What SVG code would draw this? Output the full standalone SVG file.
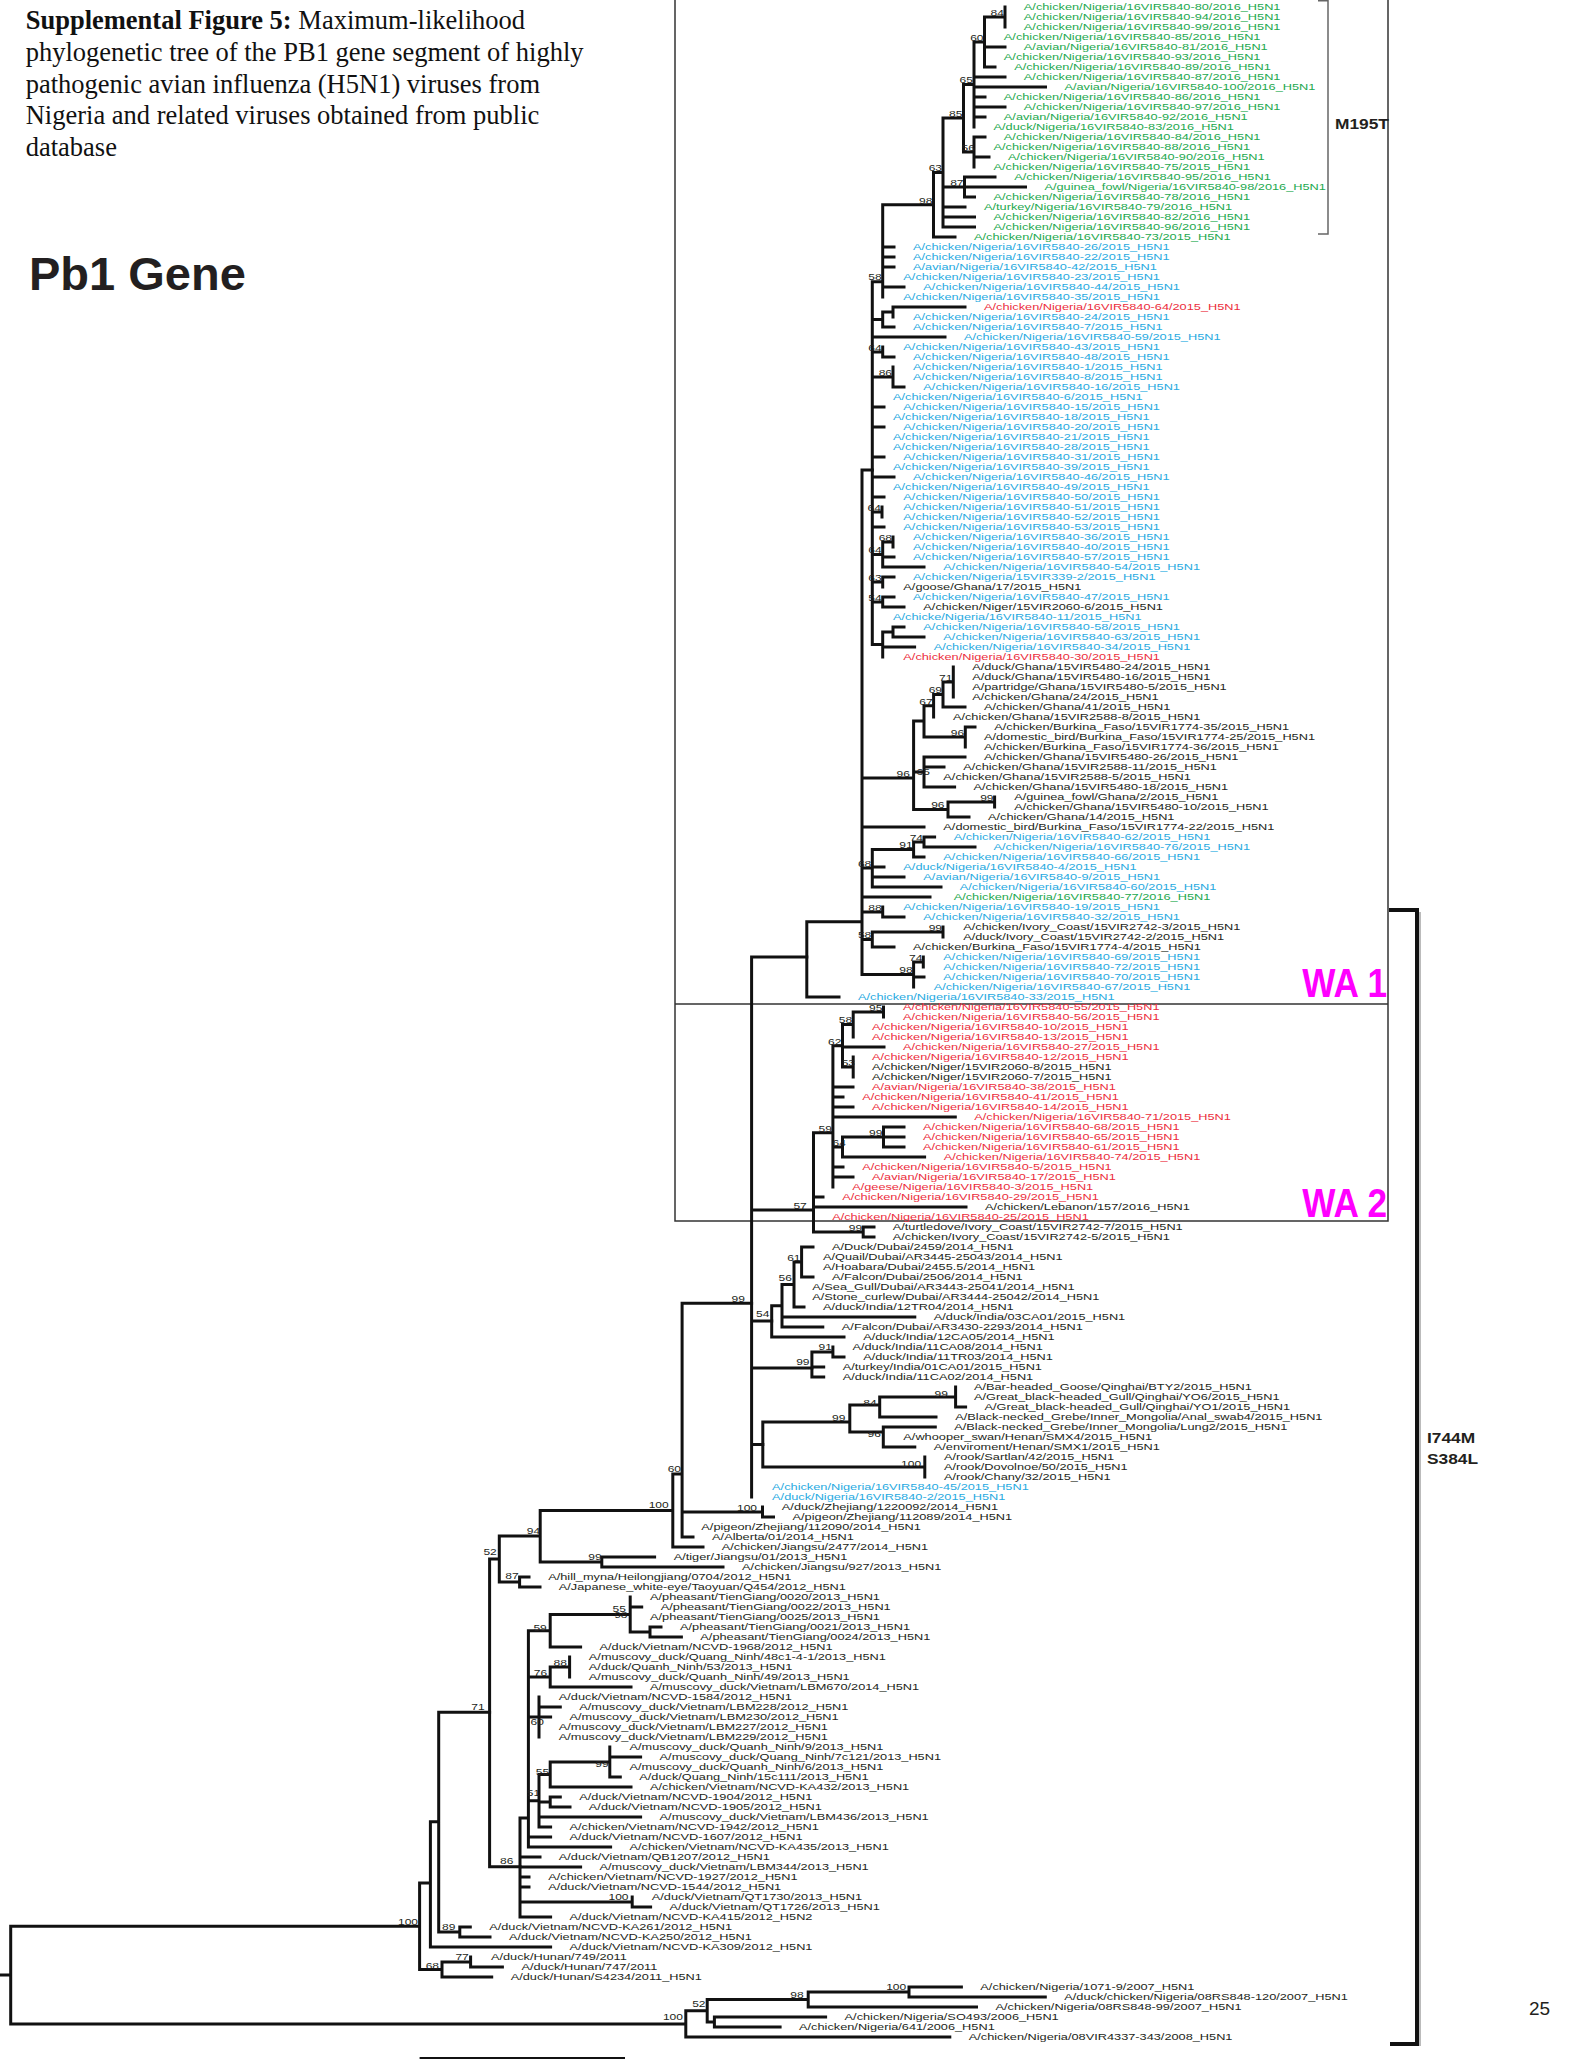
<svg xmlns="http://www.w3.org/2000/svg" width="1583" height="2059" viewBox="0 0 1583 2059">
<style>
.lf text{font-family:"Liberation Sans",Arial,sans-serif;font-size:8.8px;fill:#231f20}
.lf .g{fill:#22a84e}.lf .c{fill:#27aae1}.lf .r{fill:#ec2d3c}
.bs text{font-family:"Liberation Sans",Arial,sans-serif;font-size:8.3px;fill:#231f20;text-anchor:end}
.br{fill:none;stroke:#111;stroke-width:3;stroke-linecap:square}
.cap{font-family:"Liberation Serif","Times New Roman",serif;font-size:26.5px;fill:#111}
.hd{font-family:"Liberation Sans",Arial,sans-serif;font-weight:bold;fill:#231f20}
.wa{font-family:"Liberation Sans",Arial,sans-serif;font-weight:bold;fill:#ff00ff;font-size:40px;text-anchor:end}
</style>
<rect width="1583" height="2059" fill="#fff"/>
<g id="caption">
<text class="cap" x="25.7" y="29.3"><tspan font-weight="bold">Supplemental Figure 5:</tspan> Maximum-likelihood</text>
<text class="cap" x="25.7" y="61">phylogenetic tree of the PB1 gene segment of highly</text>
<text class="cap" x="25.7" y="92.7">pathogenic avian influenza (H5N1) viruses from</text>
<text class="cap" x="25.7" y="124.3">Nigeria and related viruses obtained from public</text>
<text class="cap" x="25.7" y="156">database</text>
</g>
<g id="title"><text class="hd" x="29" y="290" font-size="47">Pb1 Gene</text></g>
<g id="boxes">
<path d="M675 0V1221H1388V0M675 1004H1388" fill="none" stroke="#333" stroke-width="1.5"/>
<text class="wa" transform="translate(1387 997) scale(0.88 1)">WA 1</text>
<text class="wa" transform="translate(1387 1217) scale(0.88 1)">WA 2</text>
</g>
<g id="m195t">
<path d="M1318 0.8H1328V234H1318" fill="none" stroke="#666" stroke-width="1.5"/>
<text class="hd" font-size="14" transform="translate(1335 129) scale(1.24 1)">M195T</text>
</g>
<g id="i744m">
<path d="M1420 912V2046" stroke="#bbb" stroke-width="2"/>
<path d="M1389 910H1417V2044H1390" fill="none" stroke="#111" stroke-width="4"/>
<text class="hd" font-size="14" transform="translate(1427 1443) scale(1.24 1)">I744M</text>
<text class="hd" font-size="14" transform="translate(1427 1464) scale(1.24 1)">S384L</text>
</g>
<g id="page"><text x="1529" y="2015" font-family="Liberation Sans,Arial,sans-serif" font-size="19" fill="#231f20">25</text></g>
<g id="branches" class="br">
<path d="M1005 7V27M984.5 17V67M984.5 17H1005M984.5 47H1005M984.5 67H995M974 42V127M974 42H984.5M974 77H1005M974 87H1045.5M974 97H985M974 107H1005M974 117H985M974 137V167M974 137H985M974 157H989M963.5 84.5V152M963.5 84.5H974M963.5 152H974M964.5 177V197M964.5 177H995M964.5 187H1025.5M964.5 197H974.5M943 118V227M943 118H963.5M943 187H964.5M943 207H965M943 217H974.5M943 227H974.5M933.5 172.5V237M933.5 172.5H943M933.5 237H955"/>
<path d="M882.7 204.8V297M882.7 204.8H933.5M882.7 247H894M882.7 257H894M882.7 267H894M882.7 287H904M872.3 281.7H882.7M872.3 281.7V644.5M872.3 319.5H882.7M872.3 337H945M872.3 352H882.7M872.3 377H893M872.3 407H884M872.3 427H884M872.3 457H884M872.3 477H894M872.3 497H884M872.3 512H882M872.3 527H884M872.3 554.5H882.7M872.3 582H882.7M872.3 602H882.7M872.3 644.5H882.7M882.7 312V327M882.7 312H893M882.7 327H894M893 307V317M893 307H965M882.7 347V357M882.7 357H894M893 367V387M893 387H904M882 507V517M882.7 542V567M882.7 542H893M882.7 557H894M882.7 567H924M893 537V547M882.7 577V587M882.7 577H894M882.7 597V607M882.7 597H894M882.7 607H904M882.7 632V657M882.7 632H893M882.7 647H914.6M893 627V637M893 627H904M893 637H924"/>
<path d="M862 470V974.5M862 470H872.3M862 778H913.6M862 827H924M862 868H872.3M862 897H930M862 912H882.7M862 939.5H872.3M862 974.5H913.6M913.6 721V809.5M913.6 721H924M913.6 772H924M913.6 809.5H948M924 705.7V737M924 705.7H933.6M924 737H965.3M933.6 694.5V717M933.6 694.5H943M943 682V707M943 682H953.3M943 707H965M953.3 667V697M965.3 727V747M965.3 727H975M924 757V787M924 757H965M924 767H944M924 787H954.6M948 802V817M948 802H994.6M948 817H969M994.6 797V807M872.3 849.5V887M872.3 849.5H913.6M872.3 867H884M872.3 877H904M872.3 887H941M913.6 842V857M913.6 842H924M913.6 857H924M924 837V847M924 837H934.6M924 847H975M882.7 907V917M882.7 917H904M872.3 932V947M872.3 932H943M872.3 947H894M943 927V937M913.6 962V987M913.6 962H923.3M913.6 977H924M923.3 957V967M806.8 921.7V997M806.8 921.7H862M806.8 997H839"/>
<path d="M751.6 957V1497M751.6 957H806.8M751.6 1210H813.5M751.6 1321H771.7M751.6 1368H811.9M751.6 1444.5H762.8M813.5 1132.7V1232M813.5 1132.7H832.9M813.5 1197H823M813.5 1207H966M813.5 1232H863.2M863.2 1227V1237M863.2 1227H874M863.2 1237H874M832.9 1045.7V1187M832.9 1045.7H842.5M832.9 1087H853M832.9 1097H843M832.9 1107H853M832.9 1117H955.3M832.9 1147H842.5M832.9 1167H843M832.9 1177H853M842.5 1024.5V1067M842.5 1024.5H853.2M842.5 1047H884M842.5 1067H853.2M853.2 1012V1037M853.2 1012H883.5M883.5 1007V1017M853.2 1057V1077M842.5 1137V1157M842.5 1137H883.5M842.5 1157H924.6M883.5 1127V1147M883.5 1127H904M883.5 1137H904M883.5 1147H904"/>
<path d="M771.7 1305.7V1337M771.7 1305.7H782M771.7 1337H844M782 1284.5V1327M782 1284.5H794M782 1317H914.8M782 1327H822.8M794 1262V1307M794 1262H801.6M794 1307H804M801.6 1247V1277M801.6 1247H813M801.6 1277H813M811.9 1352V1377M811.9 1352H832.9M811.9 1367H823.7M811.9 1377H823.7M832.9 1347V1357M832.9 1357H844M762.8 1422V1467M762.8 1422H849.8M762.8 1467H924.8M849.8 1405V1432M849.8 1405H879.7M849.8 1432H883.3M879.7 1397V1417M879.7 1397H955.6M879.7 1417H936M955.6 1387V1407M955.6 1407H965.6M883.3 1427V1447M883.3 1427H935.3M883.3 1447H914.8M924.8 1457V1477"/>
<path d="M682.1 1303.3V1537M682.1 1303.3H751.6M682.1 1512H762.5M682.1 1537H693M762.5 1507V1517M762.5 1517H773.5M672.8 1474V1547M672.8 1474H682.1M672.8 1547H703M540.2 1510.5V1562M540.2 1510.5H672.8M540.2 1562H601.8M601.8 1557V1567M601.8 1557H654.6M601.8 1567H723M499.3 1536V1582M499.3 1536H540.2M499.3 1582H519.6M519.6 1577V1587M519.6 1577H529M519.6 1587H540M489.6 1559V1866.7M489.6 1559H499.3M489.6 1866.7H520"/>
<path d="M520 1818V1917M520 1818H528.4M520 1857H540M520 1867H580.6M520 1877H529M520 1887H529M520 1902H632.2M520 1917H550.6M632.2 1897V1907M632.2 1907H650.6M528.4 1630.75V1847M528.4 1630.75H550.2M528.4 1677H550.2M528.4 1717H539M528.4 1800.75H539M528.4 1837H550.6M528.4 1847H610.6M550.2 1614.5V1647M550.2 1614.5H630.2M550.2 1647H580.6M630.2 1597V1632M630.2 1607H641.7M630.2 1632H650M650 1627V1637M650 1627H661M650 1637H681.4M550.2 1667V1687M550.2 1667H569.6M550.2 1687H631M569.6 1657V1677M539 1697V1737M539 1707H560.3M539 1717H550.6M539 1774.5V1827M539 1774.5H550.2M539 1802H550.2M539 1817H640.6M539 1827H550.6M550.2 1762V1787M550.2 1762H609.8M550.2 1787H631M609.8 1747V1777M609.8 1757H640.6M609.8 1777H620.3M550.2 1797V1807M550.2 1797H560.3M550.2 1807H570"/>
<path d="M438.7 1712.3V1932M438.7 1712.3H489.6M438.7 1932H459.8M459.8 1927V1937M459.8 1927H470.3M459.8 1937H490M430.4 1821.7V1947M430.4 1821.7H438.7M430.4 1947H550.6M419.6 1883V1969.5M419.6 1883H430.4M419.6 1969.5H442M442 1962V1977M442 1962H470.6M442 1977H491.7M470.6 1957V1967M470.6 1967H502.4M10.7 1926.2V2024M10.7 1926.2H419.6M10.7 2024H685.8M0 1975H10.7M685.8 2010.75V2037M685.8 2010.75H707.2M685.8 2037H949.8M707.2 1999.5V2022M707.2 1999.5H808.2M707.2 2022H714.4M808.2 1992V2007M808.2 1992H909M808.2 2007H976.5M909 1987V1997M909 1987H961.4M909 1997H1045.3M714.4 2017V2027M714.4 2017H825.6M714.4 2027H780.1"/>
<path d="M419.6 2058H625" stroke-width="2" stroke-linecap="butt"/>
</g>
<g id="bootstrap" class="bs" transform="scale(1.45 1)">
<text x="692.4" y="16">84</text><text x="678.3" y="41">60</text><text x="671" y="83.5">65</text><text x="663.8" y="117">85</text><text x="672.4" y="151">56</text><text x="649.7" y="171">63</text><text x="664.5" y="186">87</text><text x="643.1" y="203.8">98</text>
<text x="608.1" y="280.5">58</text><text x="608.1" y="351">64</text><text x="615.2" y="376">86</text><text x="607.6" y="511">64</text><text x="615.2" y="541">68</text><text x="608.1" y="553.5">64</text><text x="608.1" y="581">63</text><text x="608.1" y="601">54</text>
<text x="656.8" y="681">71</text><text x="649.7" y="693.5">69</text><text x="643.2" y="704.7">67</text><text x="665" y="736">96</text><text x="627.6" y="777">96</text><text x="641.4" y="775.5">65</text><text x="685.2" y="801">99</text><text x="651.4" y="808.5">96</text>
<text x="636.6" y="841">74</text><text x="629.4" y="848.5">91</text><text x="600.9" y="867">68</text><text x="608.1" y="911">88</text><text x="600.9" y="938.5">58</text><text x="649.7" y="931">99</text><text x="636.1" y="961">74</text><text x="629.4" y="973.5">98</text>
<text x="608.6" y="1011">95</text><text x="587.7" y="1023.5">58</text><text x="580.3" y="1044.7">62</text><text x="589.7" y="1066">53</text><text x="573.7" y="1131.7">59</text><text x="608.6" y="1136">99</text><text x="583.4" y="1146">64</text><text x="556.4" y="1209">57</text><text x="594.6" y="1231">99</text>
<text x="513.8" y="1302">99</text><text x="552.1" y="1261">61</text><text x="546.1" y="1281">56</text><text x="530.7" y="1317">54</text><text x="573.8" y="1350">91</text><text x="558.3" y="1365.5">99</text><text x="583" y="1421">99</text><text x="604.6" y="1406">84</text><text x="653.8" y="1397">99</text><text x="607.6" y="1437">96</text><text x="635.3" y="1467">100</text>
<text x="469.7" y="1472">60</text><text x="522.1" y="1511">100</text><text x="461.2" y="1508.5">100</text><text x="372.6" y="1534.5">94</text><text x="415" y="1560.5">99</text><text x="342.6" y="1555">52</text><text x="357.7" y="1579.5">87</text><text x="334.3" y="1710.5">71</text>
<text x="377.1" y="1631">59</text><text x="431.7" y="1612.5">55</text><text x="432.8" y="1618.2">98</text><text x="391" y="1666.5">88</text><text x="377.3" y="1676">76</text><text x="375.1" y="1725">60</text><text x="378.8" y="1775">55</text><text x="419.8" y="1767.5">99</text><text x="372.6" y="1796">51</text><text x="354.1" y="1864.5">86</text><text x="433.5" y="1900">100</text>
<text x="314.1" y="1930">89</text><text x="288.3" y="1925.5">100</text><text x="302.8" y="1968.8">68</text><text x="323.3" y="1960">77</text><text x="471" y="2020">100</text><text x="486.6" y="2006.8">52</text><text x="554.2" y="1997.8">98</text><text x="625" y="1990">100</text>
</g>
<g id="leaves" class="lf" transform="scale(1.45 1)">
<g id="n0"><text class="g" x="706.1" y="10.2">A/chicken/Nigeria/16VIR5840-80/2016_H5N1</text></g>
<g id="n1"><text class="g" x="706.1" y="20.2">A/chicken/Nigeria/16VIR5840-94/2016_H5N1</text></g>
<g id="n2"><text class="g" x="706.1" y="30.2">A/chicken/Nigeria/16VIR5840-99/2016_H5N1</text></g>
<g id="n3"><text class="g" x="692.3" y="40.2">A/chicken/Nigeria/16VIR5840-85/2016_H5N1</text></g>
<g id="n4"><text class="g" x="706.1" y="50.2">A/avian/Nigeria/16VIR5840-81/2016_H5N1</text></g>
<g id="n5"><text class="g" x="692.3" y="60.2">A/chicken/Nigeria/16VIR5840-93/2016_H5N1</text></g>
<g id="n6"><text class="g" x="699.4" y="70.2">A/chicken/Nigeria/16VIR5840-89/2016_H5N1</text></g>
<g id="n7"><text class="g" x="706.1" y="80.2">A/chicken/Nigeria/16VIR5840-87/2016_H5N1</text></g>
<g id="n8"><text class="g" x="734.1" y="90.2">A/avian/Nigeria/16VIR5840-100/2016_H5N1</text></g>
<g id="n9"><text class="g" x="692.3" y="100.2">A/chicken/Nigeria/16VIR5840-86/2016_H5N1</text></g>
<g id="n10"><text class="g" x="706.1" y="110.2">A/chicken/Nigeria/16VIR5840-97/2016_H5N1</text></g>
<g id="n11"><text class="g" x="692.3" y="120.2">A/avian/Nigeria/16VIR5840-92/2016_H5N1</text></g>
<g id="n12"><text class="g" x="685.2" y="130.2">A/duck/Nigeria/16VIR5840-83/2016_H5N1</text></g>
<g id="n13"><text class="g" x="692.3" y="140.2">A/chicken/Nigeria/16VIR5840-84/2016_H5N1</text></g>
<g id="n14"><text class="g" x="685.2" y="150.2">A/chicken/Nigeria/16VIR5840-88/2016_H5N1</text></g>
<g id="n15"><text class="g" x="695.2" y="160.2">A/chicken/Nigeria/16VIR5840-90/2016_H5N1</text></g>
<g id="n16"><text class="g" x="685.2" y="170.2">A/chicken/Nigeria/16VIR5840-75/2015_H5N1</text></g>
<g id="n17"><text class="g" x="699.4" y="180.2">A/chicken/Nigeria/16VIR5840-95/2016_H5N1</text></g>
<g id="n18"><text class="g" x="720.3" y="190.2">A/guinea_fowl/Nigeria/16VIR5840-98/2016_H5N1</text></g>
<g id="n19"><text class="g" x="685.2" y="200.2">A/chicken/Nigeria/16VIR5840-78/2016_H5N1</text></g>
<g id="n20"><text class="g" x="678.6" y="210.2">A/turkey/Nigeria/16VIR5840-79/2016_H5N1</text></g>
<g id="n21"><text class="g" x="685.2" y="220.2">A/chicken/Nigeria/16VIR5840-82/2016_H5N1</text></g>
<g id="n22"><text class="g" x="685.2" y="230.2">A/chicken/Nigeria/16VIR5840-96/2016_H5N1</text></g>
<g id="n23"><text class="g" x="671.7" y="240.2">A/chicken/Nigeria/16VIR5840-73/2015_H5N1</text></g>
<g id="n24"><text class="c" x="629.7" y="250.2">A/chicken/Nigeria/16VIR5840-26/2015_H5N1</text></g>
<g id="n25"><text class="c" x="629.7" y="260.2">A/chicken/Nigeria/16VIR5840-22/2015_H5N1</text></g>
<g id="n26"><text class="c" x="629.7" y="270.2">A/avian/Nigeria/16VIR5840-42/2015_H5N1</text></g>
<g id="n27"><text class="c" x="623" y="280.2">A/chicken/Nigeria/16VIR5840-23/2015_H5N1</text></g>
<g id="n28"><text class="c" x="636.8" y="290.2">A/chicken/Nigeria/16VIR5840-44/2015_H5N1</text></g>
<g id="n29"><text class="c" x="623" y="300.2">A/chicken/Nigeria/16VIR5840-35/2015_H5N1</text></g>
<g id="n30"><text class="r" x="678.6" y="310.2">A/chicken/Nigeria/16VIR5840-64/2015_H5N1</text></g>
<g id="n31"><text class="c" x="629.7" y="320.2">A/chicken/Nigeria/16VIR5840-24/2015_H5N1</text></g>
<g id="n32"><text class="c" x="629.7" y="330.2">A/chicken/Nigeria/16VIR5840-7/2015_H5N1</text></g>
<g id="n33"><text class="c" x="664.8" y="340.2">A/chicken/Nigeria/16VIR5840-59/2015_H5N1</text></g>
<g id="n34"><text class="c" x="623" y="350.2">A/chicken/Nigeria/16VIR5840-43/2015_H5N1</text></g>
<g id="n35"><text class="c" x="629.7" y="360.2">A/chicken/Nigeria/16VIR5840-48/2015_H5N1</text></g>
<g id="n36"><text class="c" x="629.7" y="370.2">A/chicken/Nigeria/16VIR5840-1/2015_H5N1</text></g>
<g id="n37"><text class="c" x="629.7" y="380.2">A/chicken/Nigeria/16VIR5840-8/2015_H5N1</text></g>
<g id="n38"><text class="c" x="636.8" y="390.2">A/chicken/Nigeria/16VIR5840-16/2015_H5N1</text></g>
<g id="n39"><text class="c" x="615.9" y="400.2">A/chicken/Nigeria/16VIR5840-6/2015_H5N1</text></g>
<g id="n40"><text class="c" x="623" y="410.2">A/chicken/Nigeria/16VIR5840-15/2015_H5N1</text></g>
<g id="n41"><text class="c" x="615.9" y="420.2">A/chicken/Nigeria/16VIR5840-18/2015_H5N1</text></g>
<g id="n42"><text class="c" x="623" y="430.2">A/chicken/Nigeria/16VIR5840-20/2015_H5N1</text></g>
<g id="n43"><text class="c" x="615.9" y="440.2">A/chicken/Nigeria/16VIR5840-21/2015_H5N1</text></g>
<g id="n44"><text class="c" x="615.9" y="450.2">A/chicken/Nigeria/16VIR5840-28/2015_H5N1</text></g>
<g id="n45"><text class="c" x="623" y="460.2">A/chicken/Nigeria/16VIR5840-31/2015_H5N1</text></g>
<g id="n46"><text class="c" x="615.9" y="470.2">A/chicken/Nigeria/16VIR5840-39/2015_H5N1</text></g>
<g id="n47"><text class="c" x="629.7" y="480.2">A/chicken/Nigeria/16VIR5840-46/2015_H5N1</text></g>
<g id="n48"><text class="c" x="615.9" y="490.2">A/chicken/Nigeria/16VIR5840-49/2015_H5N1</text></g>
<g id="n49"><text class="c" x="623" y="500.2">A/chicken/Nigeria/16VIR5840-50/2015_H5N1</text></g>
<g id="n50"><text class="c" x="623" y="510.2">A/chicken/Nigeria/16VIR5840-51/2015_H5N1</text></g>
<g id="n51"><text class="c" x="623" y="520.2">A/chicken/Nigeria/16VIR5840-52/2015_H5N1</text></g>
<g id="n52"><text class="c" x="623" y="530.2">A/chicken/Nigeria/16VIR5840-53/2015_H5N1</text></g>
<g id="n53"><text class="c" x="629.7" y="540.2">A/chicken/Nigeria/16VIR5840-36/2015_H5N1</text></g>
<g id="n54"><text class="c" x="629.7" y="550.2">A/chicken/Nigeria/16VIR5840-40/2015_H5N1</text></g>
<g id="n55"><text class="c" x="629.7" y="560.2">A/chicken/Nigeria/16VIR5840-57/2015_H5N1</text></g>
<g id="n56"><text class="c" x="650.6" y="570.2">A/chicken/Nigeria/16VIR5840-54/2015_H5N1</text></g>
<g id="n57"><text class="c" x="629.7" y="580.2">A/chicken/Nigeria/15VIR339-2/2015_H5N1</text></g>
<g id="n58"><text x="623" y="590.2">A/goose/Ghana/17/2015_H5N1</text></g>
<g id="n59"><text class="c" x="629.7" y="600.2">A/chicken/Nigeria/16VIR5840-47/2015_H5N1</text></g>
<g id="n60"><text x="636.8" y="610.2">A/chicken/Niger/15VIR2060-6/2015_H5N1</text></g>
<g id="n61"><text class="c" x="615.9" y="620.2">A/chicke/Nigeria/16VIR5840-11/2015_H5N1</text></g>
<g id="n62"><text class="c" x="636.8" y="630.2">A/chicken/Nigeria/16VIR5840-58/2015_H5N1</text></g>
<g id="n63"><text class="c" x="650.6" y="640.2">A/chicken/Nigeria/16VIR5840-63/2015_H5N1</text></g>
<g id="n64"><text class="c" x="643.9" y="650.2">A/chicken/Nigeria/16VIR5840-34/2015_H5N1</text></g>
<g id="n65"><text class="r" x="623" y="660.2">A/chicken/Nigeria/16VIR5840-30/2015_H5N1</text></g>
<g id="n66"><text x="670.5" y="670.2">A/duck/Ghana/15VIR5480-24/2015_H5N1</text></g>
<g id="n67"><text x="670.5" y="680.2">A/duck/Ghana/15VIR5480-16/2015_H5N1</text></g>
<g id="n68"><text x="670.5" y="690.2">A/partridge/Ghana/15VIR5480-5/2015_H5N1</text></g>
<g id="n69"><text x="670.5" y="700.2">A/chicken/Ghana/24/2015_H5N1</text></g>
<g id="n70"><text x="678.6" y="710.2">A/chicken/Ghana/41/2015_H5N1</text></g>
<g id="n71"><text x="657.2" y="720.2">A/chicken/Ghana/15VIR2588-8/2015_H5N1</text></g>
<g id="n72"><text x="685.7" y="730.2">A/chicken/Burkina_Faso/15VIR1774-35/2015_H5N1</text></g>
<g id="n73"><text x="678.6" y="740.2">A/domestic_bird/Burkina_Faso/15VIR1774-25/2015_H5N1</text></g>
<g id="n74"><text x="678.6" y="750.2">A/chicken/Burkina_Faso/15VIR1774-36/2015_H5N1</text></g>
<g id="n75"><text x="678.6" y="760.2">A/chicken/Ghana/15VIR5480-26/2015_H5N1</text></g>
<g id="n76"><text x="664.3" y="770.2">A/chicken/Ghana/15VIR2588-11/2015_H5N1</text></g>
<g id="n77"><text x="650.6" y="780.2">A/chicken/Ghana/15VIR2588-5/2015_H5N1</text></g>
<g id="n78"><text x="671.4" y="790.2">A/chicken/Ghana/15VIR5480-18/2015_H5N1</text></g>
<g id="n79"><text x="699.4" y="800.2">A/guinea_fowl/Ghana/2/2015_H5N1</text></g>
<g id="n80"><text x="699.4" y="810.2">A/chicken/Ghana/15VIR5480-10/2015_H5N1</text></g>
<g id="n81"><text x="681.4" y="820.2">A/chicken/Ghana/14/2015_H5N1</text></g>
<g id="n82"><text x="650.6" y="830.2">A/domestic_bird/Burkina_Faso/15VIR1774-22/2015_H5N1</text></g>
<g id="n83"><text class="c" x="657.7" y="840.2">A/chicken/Nigeria/16VIR5840-62/2015_H5N1</text></g>
<g id="n84"><text class="c" x="685.2" y="850.2">A/chicken/Nigeria/16VIR5840-76/2015_H5N1</text></g>
<g id="n85"><text class="c" x="650.6" y="860.2">A/chicken/Nigeria/16VIR5840-66/2015_H5N1</text></g>
<g id="n86"><text class="c" x="623" y="870.2">A/duck/Nigeria/16VIR5840-4/2015_H5N1</text></g>
<g id="n87"><text class="c" x="636.8" y="880.2">A/avian/Nigeria/16VIR5840-9/2015_H5N1</text></g>
<g id="n88"><text class="c" x="661.9" y="890.2">A/chicken/Nigeria/16VIR5840-60/2015_H5N1</text></g>
<g id="n89"><text class="g" x="657.7" y="900.2">A/chicken/Nigeria/16VIR5840-77/2016_H5N1</text></g>
<g id="n90"><text class="c" x="623" y="910.2">A/chicken/Nigeria/16VIR5840-19/2015_H5N1</text></g>
<g id="n91"><text class="c" x="636.8" y="920.2">A/chicken/Nigeria/16VIR5840-32/2015_H5N1</text></g>
<g id="n92"><text x="664.3" y="930.2">A/chicken/Ivory_Coast/15VIR2742-3/2015_H5N1</text></g>
<g id="n93"><text x="664.3" y="940.2">A/duck/Ivory_Coast/15VIR2742-2/2015_H5N1</text></g>
<g id="n94"><text x="629.7" y="950.2">A/chicken/Burkina_Faso/15VIR1774-4/2015_H5N1</text></g>
<g id="n95"><text class="c" x="650.6" y="960.2">A/chicken/Nigeria/16VIR5840-69/2015_H5N1</text></g>
<g id="n96"><text class="c" x="650.6" y="970.2">A/chicken/Nigeria/16VIR5840-72/2015_H5N1</text></g>
<g id="n97"><text class="c" x="650.6" y="980.2">A/chicken/Nigeria/16VIR5840-70/2015_H5N1</text></g>
<g id="n98"><text class="c" x="643.9" y="990.2">A/chicken/Nigeria/16VIR5840-67/2015_H5N1</text></g>
<g id="n99"><text class="c" x="591.7" y="1000.2">A/chicken/Nigeria/16VIR5840-33/2015_H5N1</text></g>
<g id="n100"><text class="r" x="622.7" y="1010.2">A/chicken/Nigeria/16VIR5840-55/2015_H5N1</text></g>
<g id="n101"><text class="r" x="622.7" y="1020.2">A/chicken/Nigeria/16VIR5840-56/2015_H5N1</text></g>
<g id="n102"><text class="r" x="601.4" y="1030.2">A/chicken/Nigeria/16VIR5840-10/2015_H5N1</text></g>
<g id="n103"><text class="r" x="601.4" y="1040.2">A/chicken/Nigeria/16VIR5840-13/2015_H5N1</text></g>
<g id="n104"><text class="r" x="622.7" y="1050.2">A/chicken/Nigeria/16VIR5840-27/2015_H5N1</text></g>
<g id="n105"><text class="r" x="601.4" y="1060.2">A/chicken/Nigeria/16VIR5840-12/2015_H5N1</text></g>
<g id="n106"><text x="601.4" y="1070.2">A/chicken/Niger/15VIR2060-8/2015_H5N1</text></g>
<g id="n107"><text x="601.4" y="1080.2">A/chicken/Niger/15VIR2060-7/2015_H5N1</text></g>
<g id="n108"><text class="r" x="601.4" y="1090.2">A/avian/Nigeria/16VIR5840-38/2015_H5N1</text></g>
<g id="n109"><text class="r" x="594.6" y="1100.2">A/chicken/Nigeria/16VIR5840-41/2015_H5N1</text></g>
<g id="n110"><text class="r" x="601.4" y="1110.2">A/chicken/Nigeria/16VIR5840-14/2015_H5N1</text></g>
<g id="n111"><text class="r" x="671.9" y="1120.2">A/chicken/Nigeria/16VIR5840-71/2015_H5N1</text></g>
<g id="n112"><text class="r" x="636.5" y="1130.2">A/chicken/Nigeria/16VIR5840-68/2015_H5N1</text></g>
<g id="n113"><text class="r" x="636.5" y="1140.2">A/chicken/Nigeria/16VIR5840-65/2015_H5N1</text></g>
<g id="n114"><text class="r" x="636.5" y="1150.2">A/chicken/Nigeria/16VIR5840-61/2015_H5N1</text></g>
<g id="n115"><text class="r" x="650.8" y="1160.2">A/chicken/Nigeria/16VIR5840-74/2015_H5N1</text></g>
<g id="n116"><text class="r" x="594.6" y="1170.2">A/chicken/Nigeria/16VIR5840-5/2015_H5N1</text></g>
<g id="n117"><text class="r" x="601.4" y="1180.2">A/avian/Nigeria/16VIR5840-17/2015_H5N1</text></g>
<g id="n118"><text class="r" x="587.7" y="1190.2">A/geese/Nigeria/16VIR5840-3/2015_H5N1</text></g>
<g id="n119"><text class="r" x="580.8" y="1200.2">A/chicken/Nigeria/16VIR5840-29/2015_H5N1</text></g>
<g id="n120"><text x="679.3" y="1210.2">A/chicken/Lebanon/157/2016_H5N1</text></g>
<g id="n121"><text class="r" x="573.9" y="1220.2">A/chicken/Nigeria/16VIR5840-25/2015_H5N1</text></g>
<g id="n122"><text x="615.7" y="1230.2">A/turtledove/Ivory_Coast/15VIR2742-7/2015_H5N1</text></g>
<g id="n123"><text x="615.7" y="1240.2">A/chicken/Ivory_Coast/15VIR2742-5/2015_H5N1</text></g>
<g id="n124"><text x="573.8" y="1250.2">A/Duck/Dubai/2459/2014_H5N1</text></g>
<g id="n125"><text x="567.6" y="1260.2">A/Quail/Dubai/AR3445-25043/2014_H5N1</text></g>
<g id="n126"><text x="567.6" y="1270.2">A/Hoabara/Dubai/2455.5/2014_H5N1</text></g>
<g id="n127"><text x="573.8" y="1280.2">A/Falcon/Dubai/2506/2014_H5N1</text></g>
<g id="n128"><text x="560.2" y="1290.2">A/Sea_Gull/Dubai/AR3443-25041/2014_H5N1</text></g>
<g id="n129"><text x="560.2" y="1300.2">A/Stone_curlew/Dubai/AR3444-25042/2014_H5N1</text></g>
<g id="n130"><text x="567.6" y="1310.2">A/duck/India/12TR04/2014_H5N1</text></g>
<g id="n131"><text x="644" y="1320.2">A/duck/India/03CA01/2015_H5N1</text></g>
<g id="n132"><text x="580.6" y="1330.2">A/Falcon/Dubai/AR3430-2293/2014_H5N1</text></g>
<g id="n133"><text x="595.3" y="1340.2">A/duck/India/12CA05/2014_H5N1</text></g>
<g id="n134"><text x="587.9" y="1350.2">A/duck/India/11CA08/2014_H5N1</text></g>
<g id="n135"><text x="595.3" y="1360.2">A/duck/India/11TR03/2014_H5N1</text></g>
<g id="n136"><text x="581.2" y="1370.2">A/turkey/India/01CA01/2015_H5N1</text></g>
<g id="n137"><text x="581.2" y="1380.2">A/duck/India/11CA02/2014_H5N1</text></g>
<g id="n138"><text x="671.7" y="1390.2">A/Bar-headed_Goose/Qinghai/BTY2/2015_H5N1</text></g>
<g id="n139"><text x="671.7" y="1400.2">A/Great_black-headed_Gull/Qinghai/YO6/2015_H5N1</text></g>
<g id="n140"><text x="679" y="1410.2">A/Great_black-headed_Gull/Qinghai/YO1/2015_H5N1</text></g>
<g id="n141"><text x="658.8" y="1420.2">A/Black-necked_Grebe/Inner_Mongolia/Anal_swab4/2015_H5N1</text></g>
<g id="n142"><text x="658.1" y="1430.2">A/Black-necked_Grebe/Inner_Mongolia/Lung2/2015_H5N1</text></g>
<g id="n143"><text x="623" y="1440.2">A/whooper_swan/Henan/SMX4/2015_H5N1</text></g>
<g id="n144"><text x="644" y="1450.2">A/enviroment/Henan/SMX1/2015_H5N1</text></g>
<g id="n145"><text x="651" y="1460.2">A/rook/Sartlan/42/2015_H5N1</text></g>
<g id="n146"><text x="651" y="1470.2">A/rook/Dovolnoe/50/2015_H5N1</text></g>
<g id="n147"><text x="651" y="1480.2">A/rook/Chany/32/2015_H5N1</text></g>
<g id="n148"><text class="c" x="532.5" y="1490.2">A/chicken/Nigeria/16VIR5840-45/2015_H5N1</text></g>
<g id="n149"><text class="c" x="532.5" y="1500.2">A/duck/Nigeria/16VIR5840-2/2015_H5N1</text></g>
<g id="n150"><text x="539.2" y="1510.2">A/duck/Zhejiang/1220092/2014_H5N1</text></g>
<g id="n151"><text x="546.6" y="1520.2">A/pigeon/Zhejiang/112089/2014_H5N1</text></g>
<g id="n152"><text x="483.7" y="1530.2">A/pigeon/Zhejiang/112090/2014_H5N1</text></g>
<g id="n153"><text x="491.1" y="1540.2">A/Alberta/01/2014_H5N1</text></g>
<g id="n154"><text x="497.8" y="1550.2">A/chicken/Jiangsu/2477/2014_H5N1</text></g>
<g id="n155"><text x="464.6" y="1560.2">A/tiger/Jiangsu/01/2013_H5N1</text></g>
<g id="n156"><text x="511.8" y="1570.2">A/chicken/Jiangsu/927/2013_H5N1</text></g>
<g id="n157"><text x="378.1" y="1580.2">A/hill_myna/Heilongjiang/0704/2012_H5N1</text></g>
<g id="n158"><text x="385.4" y="1590.2">A/Japanese_white-eye/Taoyuan/Q454/2012_H5N1</text></g>
<g id="n159"><text x="448.3" y="1600.2">A/pheasant/TienGiang/0020/2013_H5N1</text></g>
<g id="n160"><text x="455.7" y="1610.2">A/pheasant/TienGiang/0022/2013_H5N1</text></g>
<g id="n161"><text x="448.3" y="1620.2">A/pheasant/TienGiang/0025/2013_H5N1</text></g>
<g id="n162"><text x="469" y="1630.2">A/pheasant/TienGiang/0021/2013_H5N1</text></g>
<g id="n163"><text x="483" y="1640.2">A/pheasant/TienGiang/0024/2013_H5N1</text></g>
<g id="n164"><text x="413.5" y="1650.2">A/duck/Vietnam/NCVD-1968/2012_H5N1</text></g>
<g id="n165"><text x="406.1" y="1660.2">A/muscovy_duck/Quang_Ninh/48c1-4-1/2013_H5N1</text></g>
<g id="n166"><text x="406.1" y="1670.2">A/duck/Quanh_Ninh/53/2013_H5N1</text></g>
<g id="n167"><text x="406.1" y="1680.2">A/muscovy_duck/Quanh_Ninh/49/2013_H5N1</text></g>
<g id="n168"><text x="448.3" y="1690.2">A/muscovy_duck/Vietnam/LBM670/2014_H5N1</text></g>
<g id="n169"><text x="385.4" y="1700.2">A/duck/Vietnam/NCVD-1584/2012_H5N1</text></g>
<g id="n170"><text x="399.5" y="1710.2">A/muscovy_duck/Vietnam/LBM228/2012_H5N1</text></g>
<g id="n171"><text x="392.8" y="1720.2">A/muscovy_duck/Vietnam/LBM230/2012_H5N1</text></g>
<g id="n172"><text x="385.4" y="1730.2">A/muscovy_duck/Vietnam/LBM227/2012_H5N1</text></g>
<g id="n173"><text x="385.4" y="1740.2">A/muscovy_duck/Vietnam/LBM229/2012_H5N1</text></g>
<g id="n174"><text x="434.2" y="1750.2">A/muscovy_duck/Quanh_Ninh/9/2013_H5N1</text></g>
<g id="n175"><text x="454.9" y="1760.2">A/muscovy_duck/Quang_Ninh/7c121/2013_H5N1</text></g>
<g id="n176"><text x="434.2" y="1770.2">A/muscovy_duck/Quanh_Ninh/6/2013_H5N1</text></g>
<g id="n177"><text x="440.9" y="1780.2">A/duck/Quang_Ninh/15c111/2013_H5N1</text></g>
<g id="n178"><text x="448.3" y="1790.2">A/chicken/Vietnam/NCVD-KA432/2013_H5N1</text></g>
<g id="n179"><text x="399.5" y="1800.2">A/duck/Vietnam/NCVD-1904/2012_H5N1</text></g>
<g id="n180"><text x="406.1" y="1810.2">A/duck/Vietnam/NCVD-1905/2012_H5N1</text></g>
<g id="n181"><text x="454.9" y="1820.2">A/muscovy_duck/Vietnam/LBM436/2013_H5N1</text></g>
<g id="n182"><text x="392.8" y="1830.2">A/chicken/Vietnam/NCVD-1942/2012_H5N1</text></g>
<g id="n183"><text x="392.8" y="1840.2">A/duck/Vietnam/NCVD-1607/2012_H5N1</text></g>
<g id="n184"><text x="434.2" y="1850.2">A/chicken/Vietnam/NCVD-KA435/2013_H5N1</text></g>
<g id="n185"><text x="385.4" y="1860.2">A/duck/Vietnam/QB1207/2012_H5N1</text></g>
<g id="n186"><text x="413.5" y="1870.2">A/muscovy_duck/Vietnam/LBM344/2013_H5N1</text></g>
<g id="n187"><text x="378.1" y="1880.2">A/chicken/Vietnam/NCVD-1927/2012_H5N1</text></g>
<g id="n188"><text x="378.1" y="1890.2">A/duck/Vietnam/NCVD-1544/2012_H5N1</text></g>
<g id="n189"><text x="449.5" y="1900.2">A/duck/Vietnam/QT1730/2013_H5N1</text></g>
<g id="n190"><text x="461.8" y="1910.2">A/duck/Vietnam/QT1726/2013_H5N1</text></g>
<g id="n191"><text x="392.8" y="1920.2">A/duck/Vietnam/NCVD-KA415/2012_H5N2</text></g>
<g id="n192"><text x="337.4" y="1930.2">A/duck/Vietnam/NCVD-KA261/2012_H5N1</text></g>
<g id="n193"><text x="351" y="1940.2">A/duck/Vietnam/NCVD-KA250/2012_H5N1</text></g>
<g id="n194"><text x="392.8" y="1950.2">A/duck/Vietnam/NCVD-KA309/2012_H5N1</text></g>
<g id="n195"><text x="338.6" y="1960.2">A/duck/Hunan/749/2011</text></g>
<g id="n196"><text x="359.6" y="1970.2">A/duck/Hunan/747/2011</text></g>
<g id="n197"><text x="352.2" y="1980.2">A/duck/Hunan/S4234/2011_H5N1</text></g>
<g id="n198"><text x="676.1" y="1990.2">A/chicken/Nigeria/1071-9/2007_H5N1</text></g>
<g id="n199"><text x="734" y="2000.2">A/duck/chicken/Nigeria/08RS848-120/2007_H5N1</text></g>
<g id="n200"><text x="686.6" y="2010.2">A/chicken/Nigeria/08RS848-99/2007_H5N1</text></g>
<g id="n201"><text x="582.5" y="2020.2">A/chicken/Nigeria/SO493/2006_H5N1</text></g>
<g id="n202"><text x="551.1" y="2030.2">A/chicken/Nigeria/641/2006_H5N1</text></g>
<g id="n203"><text x="668.1" y="2040.2">A/chicken/Nigeria/08VIR4337-343/2008_H5N1</text></g>
</g>
</svg>
